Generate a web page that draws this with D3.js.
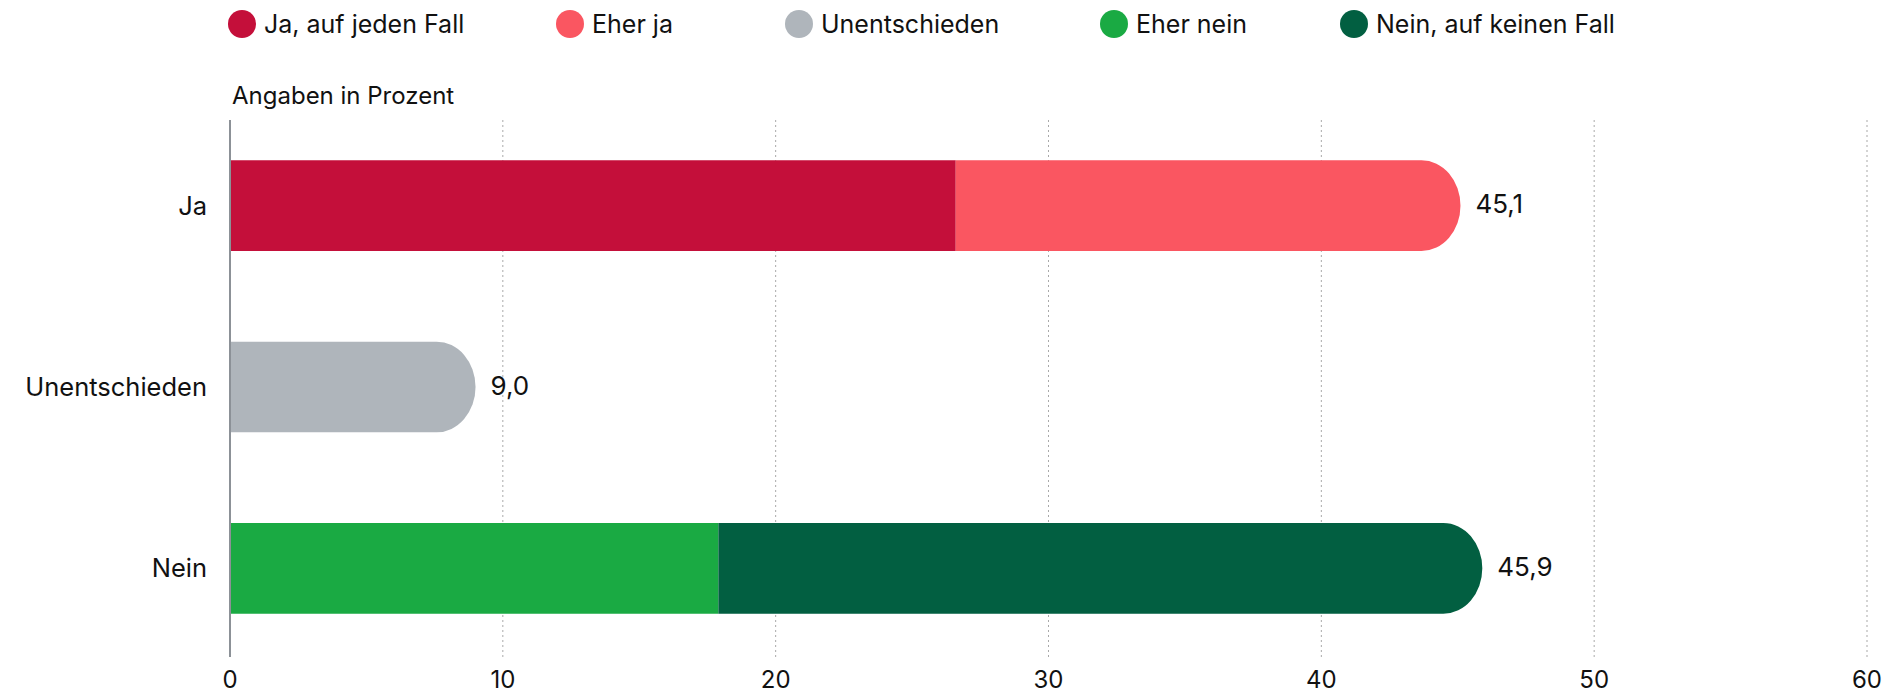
<!DOCTYPE html>
<html>
<head>
<meta charset="utf-8">
<script src="https://cdn.jsdelivr.net/npm/d3@7"></script>
<style>
  body { margin: 0; background: #fff; }
  text { font-family: Inter, Roboto, "Noto Sans", sans-serif; fill: #111; }
</style>
</head>
<body>
<svg id="chart" width="1889" height="699"></svg>
<script>
// categories on the y axis
var categories = ["Ja", "Unentschieden", "Nein"];

// series (legend order)
var seriesKeys = ["Ja, auf jeden Fall", "Eher ja", "Unentschieden", "Eher nein", "Nein, auf keinen Fall"];
var seriesColors = ["#c40f3a", "#fa5661", "#afb5bb", "#1aaa43", "#025f41"];

// values per series, one per category (Ja, Unentschieden, Nein)
var jaAufJedenFall    = [26.6, 0, 0];
var eherJa            = [18.5, 0, 0];
var unentschieden     = [0, 9.0, 0];
var eherNein          = [0, 0, 17.9];
var neinAufKeinenFall = [0, 0, 28.0];

var xTicks = [0, 10, 20, 30, 40, 50, 60];

var seriesValues = [jaAufJedenFall, eherJa, unentschieden, eherNein, neinAufKeinenFall];

var rows = categories.map(function (c, i) {
    var r = { cat: c };
    seriesKeys.forEach(function (k, j) { r[k] = seriesValues[j][i]; });
    return r;
});

var svg = d3.select("#chart");
var mLeft = 230, mRight = 1867, mTop = 115, mBottom = 659;

var x = d3.scaleLinear().domain([0, 60]).range([mLeft, mRight]);
var y = d3.scaleBand().domain(categories).range([mTop, mBottom]).paddingInner(0.5).paddingOuter(0.25);
var color = d3.scaleOrdinal().domain(seriesKeys).range(seriesColors);

var stacked = d3.stack().keys(seriesKeys)(rows);

// dotted gridlines
svg.append("g")
    .selectAll("line")
    .data(xTicks.filter(function (t) { return t > 0; }))
    .enter()
    .append("line")
    .attr("x1", function (d) { return x(d); })
    .attr("x2", function (d) { return x(d); })
    .attr("y1", 120)
    .attr("y2", 657)
    .attr("stroke", "#a9a9a9")
    .attr("stroke-width", 1)
    .attr("stroke-dasharray", "2,3");

// last non-empty segment of each row gets the round end
var lastKey = {};
rows.forEach(function (r) {
    seriesKeys.forEach(function (k) { if (r[k] > 0) lastKey[r.cat] = k; });
});

var h = y.bandwidth();
var rx = 39;

stacked.forEach(function (layer) {
    svg.append("g")
        .selectAll("path")
        .data(layer.filter(function (d) { return d[1] - d[0] > 0; }))
        .enter()
        .append("path")
        .attr("fill", color(layer.key))
        .attr("d", function (d) {
            var x0 = x(d[0]), x1 = x(d[1]), y0 = y(d.data.cat);
            if (lastKey[d.data.cat] === layer.key) {
                return "M" + x0 + "," + y0 + "H" + (x1 - rx) +
                    "A" + rx + "," + (h / 2) + " 0 0 1 " + x1 + "," + (y0 + h / 2) +
                    "A" + rx + "," + (h / 2) + " 0 0 1 " + (x1 - rx) + "," + (y0 + h) +
                    "H" + x0 + "Z";
            }
            return "M" + x0 + "," + y0 + "H" + x1 + "V" + (y0 + h) + "H" + x0 + "Z";
        });
});

// axis line at zero
svg.append("line")
    .attr("x1", x(0)).attr("x2", x(0))
    .attr("y1", 120).attr("y2", 657)
    .attr("stroke", "#8c9197")
    .attr("stroke-width", 2);

// total labels
var fmt = function (v) { return d3.format(".1f")(v).replace(".", ","); };
var total = function (d) { return d3.sum(seriesKeys, function (k) { return d[k]; }); };
svg.append("g")
    .selectAll("text")
    .data(rows)
    .enter()
    .append("text")
    .attr("x", function (d) { return x(total(d)) + 15; })
    .attr("y", function (d) { return y(d.cat) + h / 2; })
    .attr("dy", "0.3em")
    .attr("font-size", 26)
    .text(function (d) { return fmt(total(d)); });

// category labels
svg.append("g")
    .selectAll("text")
    .data(categories)
    .enter()
    .append("text")
    .attr("x", mLeft - 23)
    .attr("y", function (d) { return y(d) + h / 2; })
    .attr("dy", "0.35em")
    .attr("text-anchor", "end")
    .attr("font-size", 25.5)
    .text(function (d) { return d; });

// x tick labels
svg.append("g")
    .selectAll("text")
    .data(xTicks)
    .enter()
    .append("text")
    .attr("x", function (d) { return x(d); })
    .attr("y", 688)
    .attr("text-anchor", "middle")
    .attr("font-size", 24)
    .text(function (d) { return d; });

// subtitle
svg.append("text")
    .attr("x", 232)
    .attr("y", 104)
    .attr("font-size", 24)
    .text("Angaben in Prozent");

// legend
var legendX = [242, 570, 799, 1114, 1354];
var legend = svg.append("g")
    .selectAll("g")
    .data(seriesKeys)
    .enter()
    .append("g")
    .attr("transform", function (d, i) { return "translate(" + legendX[i] + ",24)"; });

legend.append("circle")
    .attr("r", 14)
    .attr("fill", function (d) { return color(d); });

legend.append("text")
    .attr("x", 22)
    .attr("dy", "0.35em")
    .attr("font-size", 25)
    .text(function (d) { return d; });
</script>
</body>
</html>
